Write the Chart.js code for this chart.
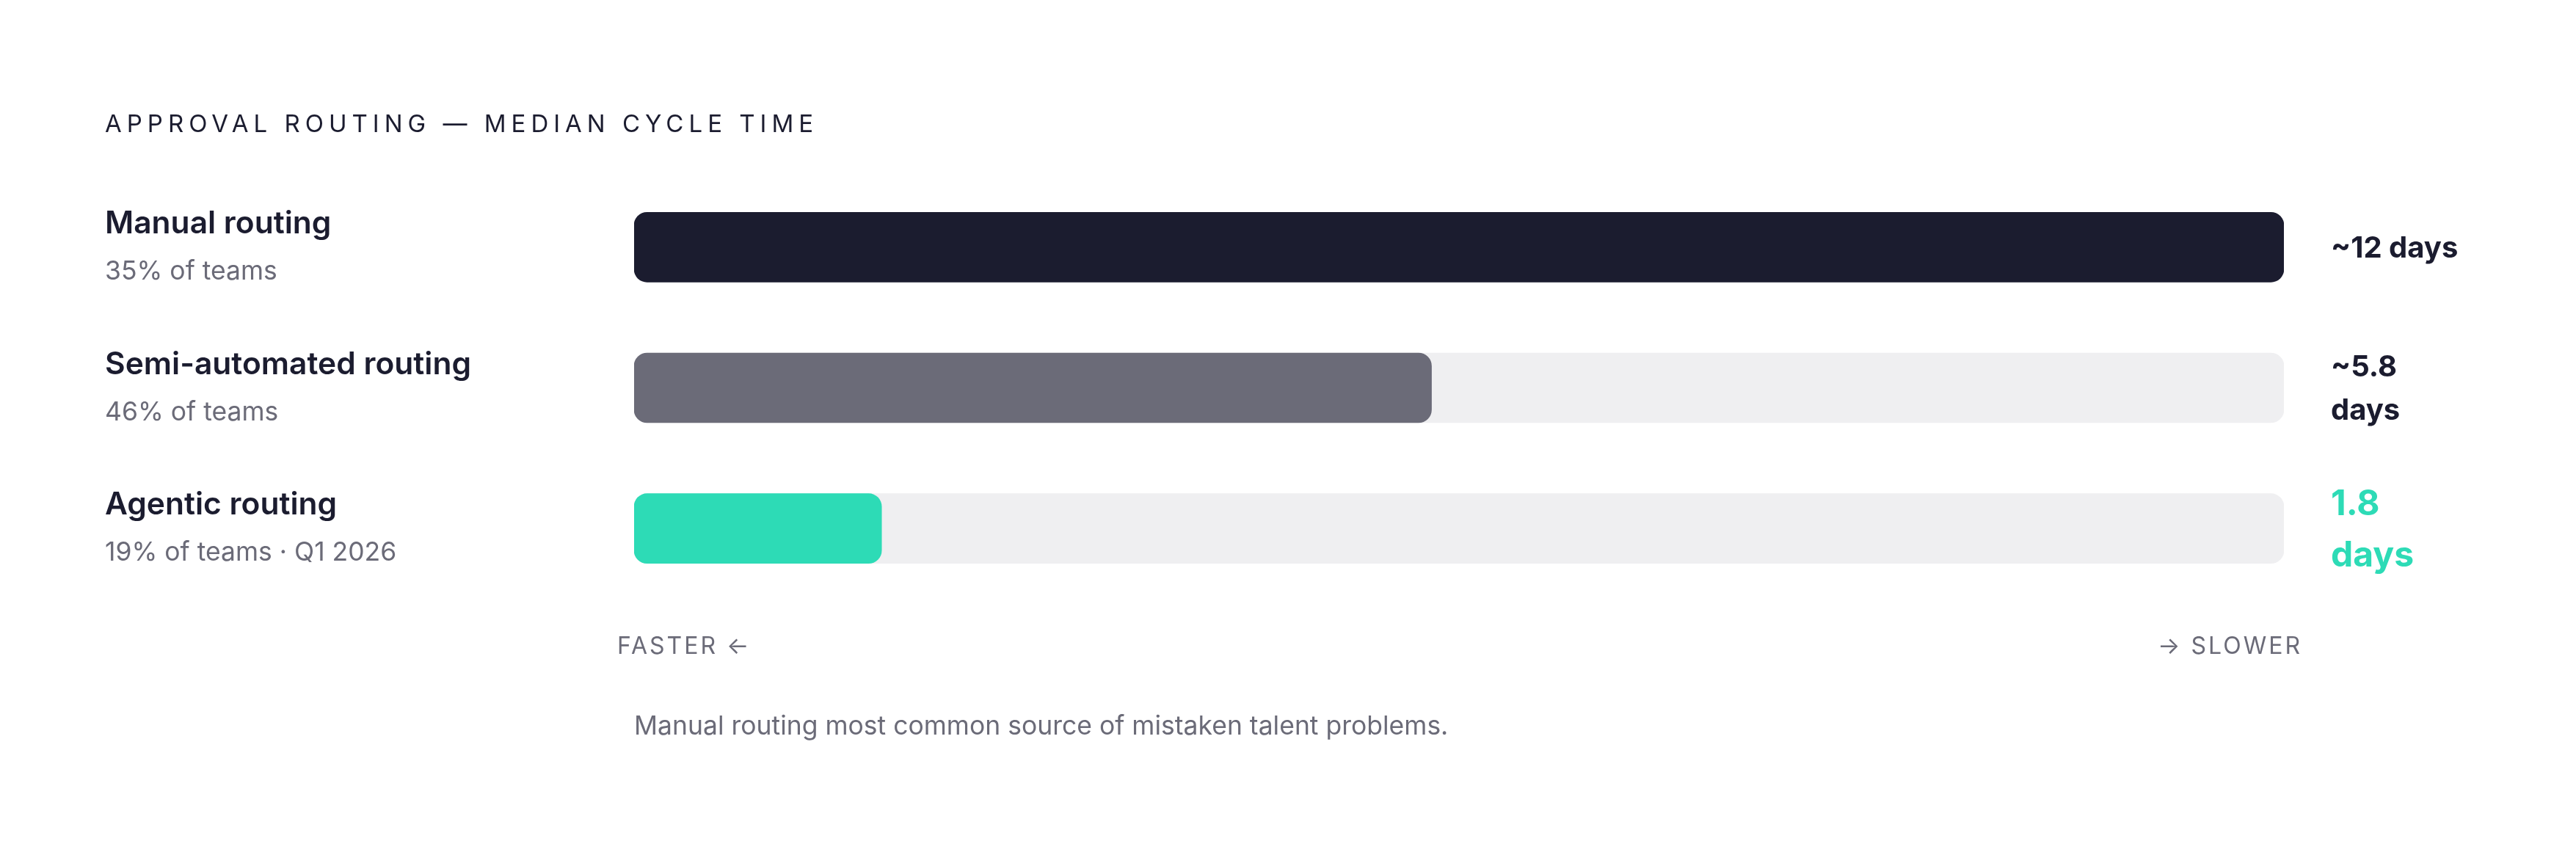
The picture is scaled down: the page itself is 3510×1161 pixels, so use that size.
<!DOCTYPE html>
<html>
<head>
<meta charset="utf-8">
<script src="https://cdn.jsdelivr.net/npm/chart.js@4"></script>
<style>
  html,body{margin:0;padding:0;background:#fff;}
  canvas{display:block;}
</style>
</head>
<body>
<canvas id="chartRouting" width="3510" height="1161"></canvas>
<script>
// data
const categories  = ['Manual routing', 'Semi-automated routing', 'Agentic routing'];
const shareLabels = ['35% of teams', '46% of teams', '19% of teams · Q1 2026'];
const medianDays  = [12, 5.8, 1.8];
const valueLabels = [['~12 days'], ['~5.8', 'days'], ['1.8', 'days']];
const scaleMax    = 12;
const trackDays   = categories.map(()=>scaleMax);

const titleText = 'APPROVAL ROUTING — MEDIAN CYCLE TIME';
const leftNote  = 'FASTER ←';
const rightNote = '→ SLOWER';
const footnote  = 'Manual routing most common source of mistaken talent problems.';

const INK   = '#1b1c2f';
const MUTED = '#6b6b78';
const TEAL  = '#2ddbb6';
const barColors = [INK, MUTED, TEAL];
const FONT = 'Inter, "DejaVu Sans", sans-serif';

// texto fuera de las barras
const labelsPlugin = {
  id: 'routingLabels',
  afterDraw(chart){
    const {ctx, scales:{x, y}} = chart;
    ctx.save();
    ctx.textBaseline = 'alphabetic';

    // titulo
    ctx.fillStyle = INK;
    ctx.font = `400 33px ${FONT}`;
    ctx.letterSpacing = '7px';
    ctx.textAlign = 'left';
    ctx.fillText(titleText, 143, 180);
    ctx.letterSpacing = '0px';

    categories.forEach((name, i)=>{
      const cy = y.getPixelForValue(i);
      ctx.textAlign = 'left';
      ctx.fillStyle = INK;
      ctx.font = `600 42.5px ${FONT}`;
      ctx.fillText(name, 143, cy - 19);
      ctx.fillStyle = MUTED;
      ctx.font = `400 35.5px ${FONT}`;
      ctx.fillText(shareLabels[i], 143, cy + 44);

      // valor a la derecha
      const lines = valueLabels[i];
      const isLast = i === categories.length - 1;
      const size = isLast ? 48 : 40;
      const lh = isLast ? 70 : 59;
      ctx.fillStyle = isLast ? TEAL : INK;
      ctx.font = `700 ${size}px ${FONT}`;
      const vx = x.right + 64;
      const firstBase = cy + size*0.36 - (lines.length-1)*lh/2;
      lines.forEach((ln, k)=> ctx.fillText(ln, vx, firstBase + k*lh));
    });

    // extremos del eje
    ctx.fillStyle = MUTED;
    ctx.font = `400 32px ${FONT}`;
    ctx.letterSpacing = '3px';
    ctx.textAlign = 'left';
    ctx.fillText(leftNote, x.left - 23, 891);
    ctx.textAlign = 'right';
    ctx.fillText(rightNote, x.right + 25, 891);
    ctx.letterSpacing = '0px';

    // nota
    ctx.textAlign = 'left';
    ctx.font = `400 35.5px ${FONT}`;
    ctx.fillText(footnote, x.left, 1001);
    ctx.restore();
  }
};

new Chart(document.getElementById('chartRouting').getContext('2d'), {
  type: 'bar',
  data: {
    labels: categories,
    datasets: [
      { label: 'Median cycle time (days)', data: medianDays, backgroundColor: barColors, order: 0 },
      { label: 'Track', data: trackDays, backgroundColor: '#efeff1', order: 1 }
    ]
  },
  options: {
    indexAxis: 'y',
    responsive: false,
    devicePixelRatio: 1,
    animation: false,
    layout: { padding: { left: 864, right: 398, top: 241, bottom: 345 } },
    datasets: {
      bar: {
        grouped: false,
        barThickness: 95,
        borderRadius: 18,
        borderSkipped: false
      }
    },
    plugins: { legend: { display: false }, tooltip: { enabled: false } },
    scales: {
      x: { display: false, min: 0, max: scaleMax },
      y: { display: false }
    }
  },
  plugins: [labelsPlugin]
});
</script>
</body>
</html>
